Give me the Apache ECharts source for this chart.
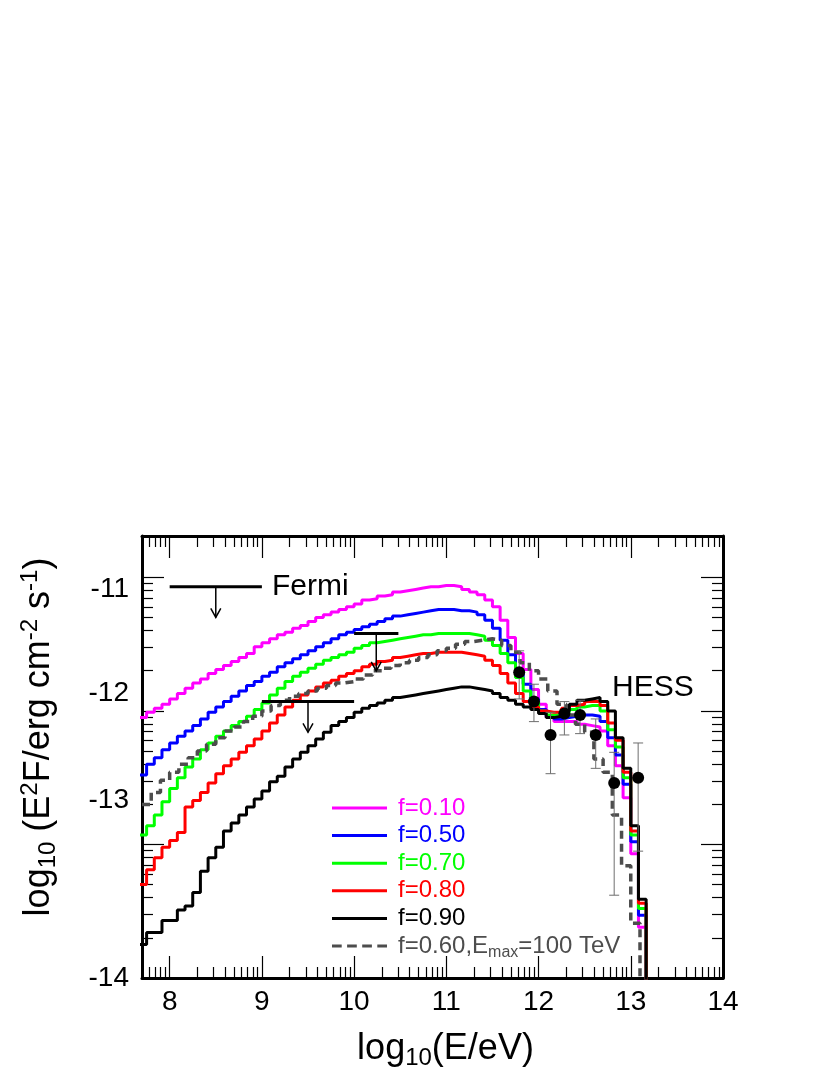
<!DOCTYPE html>
<html>
<head>
<meta charset="utf-8">
<script src="https://cdn.jsdelivr.net/npm/echarts@6/dist/echarts.min.js"></script>
<style>
  html, body { margin: 0; background: #fff; }
  #chart { width: 830px; height: 1075px; }
</style>
</head>
<body>
<div id="chart"></div>
<script>
const FONT = '"Liberation Sans", Arial, Helvetica, sans-serif';

// model histograms: 1/12 dex bins, first bin starts at 7 + 8/12
const modelBinStart = 7 + 8 / 12;
const modelBinWidth = 1 / 12;
// E_max = 100 TeV curve: 0.1 dex bins from 7.7
const emaxBinStart = 7.7;
const emaxBinWidth = 0.1;

// log10(E^2 F) per bin
const f010 = [-12.05, -12.01, -11.98, -11.95, -11.91, -11.87, -11.83, -11.79, -11.76, -11.72,
  -11.69, -11.66, -11.63, -11.60, -11.57, -11.52, -11.49, -11.46, -11.43, -11.41,
  -11.38, -11.36, -11.33, -11.30, -11.28, -11.26, -11.24, -11.22, -11.20, -11.17,
  -11.16, -11.14, -11.13, -11.11, -11.10, -11.09, -11.08, -11.07, -11.07, -11.06,
  -11.06, -11.07, -11.09, -11.11, -11.13, -11.17, -11.22, -11.32, -11.45, -11.57,
  -11.69, -11.84, -11.95, -12.05, -12.08, -12.08, -12.08, -12.10, -12.11, -12.12,
  -12.15, -12.26, -12.41, -12.65, -13.07, -13.62];
const f050 = [-12.48, -12.40, -12.35, -12.29, -12.24, -12.19, -12.15, -12.11, -12.06, -12.01,
  -11.97, -11.93, -11.89, -11.85, -11.81, -11.78, -11.74, -11.71, -11.67, -11.64,
  -11.61, -11.58, -11.55, -11.52, -11.49, -11.46, -11.43, -11.41, -11.39, -11.37,
  -11.35, -11.33, -11.31, -11.29, -11.28, -11.27, -11.26, -11.25, -11.24, -11.24,
  -11.24, -11.25, -11.25, -11.26, -11.28, -11.32, -11.38, -11.47, -11.58, -11.70,
  -11.80, -11.91, -11.99, -12.04, -12.06, -12.05, -12.04, -12.03, -12.03, -12.04,
  -12.08, -12.20, -12.33, -12.55, -12.98, -13.53];
const f070 = [-12.93, -12.86, -12.78, -12.68, -12.58, -12.50, -12.42, -12.36, -12.29, -12.24,
  -12.19, -12.15, -12.11, -12.08, -12.04, -11.99, -11.94, -11.88, -11.83, -11.78,
  -11.74, -11.71, -11.68, -11.65, -11.62, -11.60, -11.58, -11.56, -11.53, -11.51,
  -11.49, -11.48, -11.47, -11.46, -11.45, -11.44, -11.43, -11.43, -11.42, -11.42,
  -11.42, -11.42, -11.42, -11.43, -11.44, -11.47, -11.51, -11.57, -11.64, -11.75,
  -11.85, -11.93, -12.00, -12.03, -12.03, -12.01, -11.99, -11.97, -11.96, -11.96,
  -12.00, -12.14, -12.27, -12.50, -12.93, -13.48];
const f080 = [-13.30, -13.19, -13.10, -13.02, -12.97, -12.91, -12.72, -12.67, -12.61, -12.54,
  -12.47, -12.41, -12.36, -12.31, -12.26, -12.21, -12.15, -12.09, -12.03, -11.97,
  -11.92, -11.88, -11.85, -11.82, -11.79, -11.77, -11.74, -11.72, -11.70, -11.67,
  -11.65, -11.63, -11.62, -11.60, -11.59, -11.58, -11.57, -11.57, -11.56, -11.56,
  -11.56, -11.56, -11.57, -11.58, -11.59, -11.62, -11.66, -11.72, -11.79, -11.87,
  -11.93, -11.97, -12.00, -12.01, -12.01, -11.98, -11.96, -11.95, -11.93, -11.93,
  -11.96, -12.09, -12.22, -12.46, -12.90, -13.44];
const f090 = [-13.75, -13.66, -13.66, -13.57, -13.57, -13.49, -13.46, -13.36, -13.20, -13.10,
  -13.02, -12.90, -12.84, -12.78, -12.72, -12.66, -12.60, -12.53, -12.49, -12.42,
  -12.36, -12.31, -12.26, -12.21, -12.16, -12.11, -12.08, -12.05, -12.01, -11.98,
  -11.96, -11.94, -11.92, -11.90, -11.89, -11.88, -11.87, -11.86, -11.85, -11.84,
  -11.83, -11.82, -11.82, -11.83, -11.84, -11.85, -11.87, -11.90, -11.92, -11.95,
  -11.97, -11.99, -12.02, -12.05, -12.04, -12.00, -11.95, -11.92, -11.91, -11.90,
  -11.93, -12.00, -12.20, -12.43, -12.86, -13.41];
const f060emax = [-12.70, -12.61, -12.52, -12.46, -12.40, -12.35, -12.30, -12.25, -12.20, -12.15,
  -12.12, -12.08, -12.04, -12.00, -11.96, -11.92, -11.89, -11.87, -11.85, -11.83,
  -11.81, -11.79, -11.78, -11.76, -11.73, -11.70, -11.68, -11.66, -11.64, -11.62,
  -11.60, -11.58, -11.55, -11.53, -11.50, -11.48, -11.47, -11.46, -11.47, -11.51,
  -11.56, -11.64, -11.70, -11.76, -11.85, -11.95, -12.03, -12.10, -12.16, -12.36,
  -12.46, -12.78, -13.16, -13.59];

// HESS points with error bars
const hessX = [11.79, 11.95, 12.13, 12.28, 12.45, 12.62, 12.82, 13.08];
const hessY = [-11.71, -11.93, -12.18, -12.02, -12.03, -12.18, -12.54, -12.50];
const hessLo = [-11.91, -12.08, -12.47, -12.18, -12.17, -12.43, -13.38, -13.05];
const hessHi = [-11.55, -11.80, -12.01, -11.93, -11.92, -12.06, -12.31, -12.24];

// Fermi upper limits
const fermiLo = [8.0, 10.0, 9.0];
const fermiHi = [9.0, 10.48, 10.0];
const fermiY = [-11.07, -11.42, -11.93];
const fermiTip = [-11.30, -11.70, -12.16];

const xTicks = [8, 9, 10, 11, 12, 13, 14];
const yTicks = [-14, -13, -12, -11];
// the y numbers on the original sit a little off the frame ticks
const yLabelPos = [-14, -12.67, -11.87, -11.09];
const yLabelText = ['-14', '-13', '-12', '-11'];
const X_MIN = 7.7, X_MAX = 14, Y_MIN = -14, Y_MAX = -10.69;

// log-style minor ticks inside each unit, as on the original frame
const xMinor = [];
for (let n = 7; n <= 13; n++) for (let k = 2; k <= 9; k++) {
  const v = n + Math.log10(k);
  if (v > X_MIN + 0.01 && v < X_MAX) xMinor.push(v);
}
const yMinor = [];
for (let n = -14; n <= -11; n++) for (let k = 2; k <= 9; k++) {
  const v = n + Math.log10(k);
  if (v > Y_MIN && v < Y_MAX - 0.02) yMinor.push(v);
}

const EMAX_NAME = 'f=0.60,Emax=100 TeV';
const legendKey = { 'f=0.10': 'm', 'f=0.50': 'b', 'f=0.70': 'g', 'f=0.80': 'r', 'f=0.90': 'k' };
const DASH_ICON = 'path://M0,0h9v3h-9zM14,0h9v3h-9zM28,0h9v3h-9zM42,0h9v3h-9z';

function toSteps(vals, start, width) {
  const pts = vals.map((v, i) => [start + i * width, v]);
  pts.push([start + vals.length * width, -14.6]);
  return pts;
}

function stepLine(name, color, vals, start, width, dash) {
  return {
    type: 'line', name, step: 'end', symbol: 'none', showSymbol: false,
    data: toSteps(vals, start, width),
    lineStyle: { color, width: dash ? 3.5 : 3, type: dash || 'solid' },
    itemStyle: { color },
    emphasis: { disabled: true },
    clip: true
  };
}

function xAxisOf(position, major) {
  return {
    type: 'value', position, min: X_MIN, max: X_MAX,
    splitLine: { show: false },
    axisLine: { show: major, onZero: false, lineStyle: { color: '#000', width: 3 } },
    axisTick: { show: true, inside: true, length: major ? 22 : 11,
      customValues: major ? xTicks : xMinor, lineStyle: { color: '#000', width: 1.2 } },
    axisLabel: { show: false }
  };
}
function yAxisOf(position, major) {
  return {
    type: 'value', position, min: Y_MIN, max: Y_MAX,
    splitLine: { show: false },
    axisLine: { show: major, onZero: false, lineStyle: { color: '#000', width: 3 } },
    axisTick: { show: true, inside: true, length: major ? 22 : 11,
      customValues: major ? yTicks : yMinor, lineStyle: { color: '#000', width: 1.2 } },
    axisLabel: { show: false }
  };
}

const xMain = xAxisOf('bottom', true);
xMain.axisLabel = { show: true, customValues: xTicks, fontSize: 28, margin: 10, color: '#000', fontFamily: FONT };
xMain.name = 'log{sub|10}(E/eV)';
xMain.nameLocation = 'middle';
xMain.nameGap = 50;
xMain.nameTextStyle = {
  fontSize: 36, fontFamily: FONT, color: '#000', padding: [0, 0, 0, 26],
  rich: { sub: { fontSize: 24, fontFamily: FONT, padding: [18, 0, 0, 0] } }
};

const yMain = yAxisOf('left', true);
yMain.axisLabel = {
  show: true, customValues: yLabelPos, fontSize: 28, margin: 13, color: '#000', fontFamily: FONT,
  formatter: v => {
    let best = 0;
    yLabelPos.forEach((p, i) => { if (Math.abs(p - v) < Math.abs(yLabelPos[best] - v)) best = i; });
    return yLabelText[best];
  }
};
yMain.name = 'log{sub|10} (E{sup|2}F/erg cm{sup|-2} s{sup|-1})';
yMain.nameLocation = 'middle';
yMain.nameRotate = 90;
yMain.nameGap = 82;
yMain.nameTextStyle = {
  fontSize: 36, fontFamily: FONT, color: '#000', padding: [0, 0, 0, 40],
  rich: {
    sub: { fontSize: 24, fontFamily: FONT, padding: [18, 0, 0, 0] },
    sup: { fontSize: 24, fontFamily: FONT, padding: [0, 0, 18, 0] }
  }
};

const chart = echarts.init(document.getElementById('chart'), null, { renderer: 'canvas' });

chart.setOption({
  animation: false,
  backgroundColor: '#fff',
  textStyle: { fontFamily: FONT },
  grid: { left: 142, right: 107, top: 536, bottom: 97, containLabel: false, outerBoundsMode: 'none' },
  legend: {
    orient: 'vertical', left: 327, top: 791,
    itemWidth: 55, itemHeight: 3, itemGap: 3.6,
    symbolKeepAspect: false,
    selectedMode: false,
    data: [
      { name: 'f=0.10', icon: 'rect' },
      { name: 'f=0.50', icon: 'rect' },
      { name: 'f=0.70', icon: 'rect' },
      { name: 'f=0.80', icon: 'rect' },
      { name: 'f=0.90', icon: 'rect' },
      { name: EMAX_NAME, icon: DASH_ICON }
    ],
    formatter: name => name === EMAX_NAME
      ? '{sp|}{d|f=0.60,E}{ds|max}{d|=100 TeV}'
      : `{sp|}{${legendKey[name]}|${name}}`,
    textStyle: {
      fontFamily: FONT, fontSize: 24, lineHeight: 24,
      rich: {
        sp: { width: 6 },
        m: { color: '#ff00ff', fontSize: 24, fontFamily: FONT },
        b: { color: '#0000ff', fontSize: 24, fontFamily: FONT },
        g: { color: '#00ff00', fontSize: 24, fontFamily: FONT },
        r: { color: '#ff0000', fontSize: 24, fontFamily: FONT },
        k: { color: '#000000', fontSize: 24, fontFamily: FONT },
        d: { color: '#4d4d4d', fontSize: 24, fontFamily: FONT },
        ds: { color: '#4d4d4d', fontSize: 16, fontFamily: FONT, padding: [13, 0, 0, 0] }
      }
    }
  },
  xAxis: [xMain, xAxisOf('bottom', false), xAxisOf('top', true), xAxisOf('top', false)],
  yAxis: [yMain, yAxisOf('left', false), yAxisOf('right', true), yAxisOf('right', false)],
  graphic: [
    { type: 'text', left: 272, top: 572, style: { text: 'Fermi', fontSize: 30, fontFamily: FONT, fill: '#000' } },
    { type: 'text', left: 612, top: 673, style: { text: 'HESS', fontSize: 30, fontFamily: FONT, fill: '#000' } }
  ],
  series: [
    stepLine('f=0.10', '#ff00ff', f010, modelBinStart, modelBinWidth),
    stepLine('f=0.50', '#0000ff', f050, modelBinStart, modelBinWidth),
    stepLine('f=0.70', '#00ff00', f070, modelBinStart, modelBinWidth),
    stepLine('f=0.80', '#ff0000', f080, modelBinStart, modelBinWidth),
    stepLine('f=0.90', '#000000', f090, modelBinStart, modelBinWidth),
    stepLine(EMAX_NAME, '#4d4d4d', f060emax, emaxBinStart, emaxBinWidth, [8, 5]),
    {
      type: 'custom', name: 'Fermi UL',
      data: fermiLo.map((lo, i) => [lo, fermiHi[i], fermiY[i], fermiTip[i]]),
      encode: { x: [0, 1], y: [2, 3] },
      renderItem(params, api) {
        const lo = api.value(0), hi = api.value(1), y = api.value(2), tip = api.value(3);
        const a = api.coord([lo, y]);
        const b = api.coord([hi, y]);
        const m = api.coord([(lo + hi) / 2, y]);
        const t = api.coord([(lo + hi) / 2, tip]);
        const thin = { stroke: '#000', lineWidth: 1.5, fill: null };
        return {
          type: 'group',
          children: [
            { type: 'line', shape: { x1: a[0], y1: a[1], x2: b[0], y2: b[1] }, style: { stroke: '#000', lineWidth: 3 } },
            { type: 'line', shape: { x1: m[0], y1: m[1], x2: t[0], y2: t[1] }, style: thin },
            { type: 'polyline', shape: { points: [[t[0] - 5, t[1] - 9], [t[0], t[1]], [t[0] + 5, t[1] - 9]] }, style: thin }
          ]
        };
      },
      z: 4
    },
    {
      type: 'custom', name: 'HESS err',
      data: hessX.map((x, i) => [x, hessY[i], hessLo[i], hessHi[i]]),
      encode: { x: 0, y: [1, 2, 3] },
      renderItem(params, api) {
        const x = api.value(0);
        const lo = api.coord([x, api.value(2)]);
        const hi = api.coord([x, api.value(3)]);
        const st = { stroke: '#6e6e6e', lineWidth: 1 };
        const cap = 5;
        return {
          type: 'group',
          children: [
            { type: 'line', shape: { x1: lo[0], y1: lo[1], x2: hi[0], y2: hi[1] }, style: st },
            { type: 'line', shape: { x1: lo[0] - cap, y1: lo[1], x2: lo[0] + cap, y2: lo[1] }, style: st },
            { type: 'line', shape: { x1: hi[0] - cap, y1: hi[1], x2: hi[0] + cap, y2: hi[1] }, style: st }
          ]
        };
      },
      z: 5
    },
    {
      type: 'scatter', name: 'HESS',
      data: hessX.map((x, i) => [x, hessY[i]]),
      symbol: 'circle', symbolSize: 12,
      itemStyle: { color: '#000', opacity: 1 },
      emphasis: { disabled: true },
      z: 6
    }
  ]
});
</script>
</body>
</html>
